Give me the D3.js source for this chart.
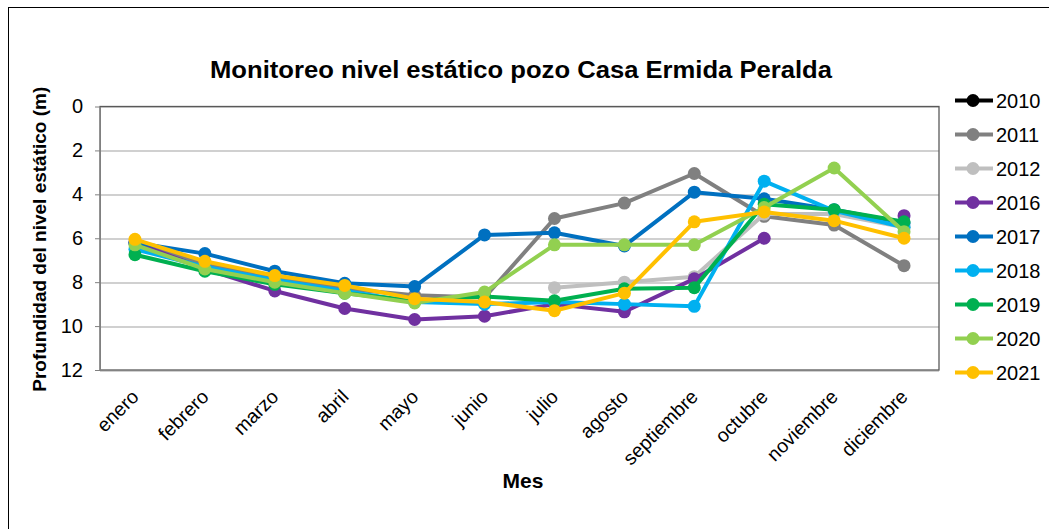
<!DOCTYPE html>
<html>
<head>
<meta charset="utf-8">
<script src="https://cdn.jsdelivr.net/npm/d3@7"></script>
<style>
  body { margin: 0; background: #fff; }
  text { font-family: "Liberation Sans", Arial, sans-serif; }
</style>
</head>
<body>
<div id="chart"></div>
<script>
// data
var months = ["enero", "febrero", "marzo", "abril", "mayo", "junio", "julio",
  "agosto", "septiembre", "octubre", "noviembre", "diciembre"];
var years = ["2010", "2011", "2012", "2016", "2017", "2018", "2019", "2020", "2021"];
var colors = ["#000000", "#808080", "#bfbfbf", "#7030a0", "#0070c0", "#00b0f0", "#00b050", "#92d050", "#ffc000"];
var yTicks = [0, 2, 4, 6, 8, 10, 12];

var v2010 = [null, null, null, null, null, null, null, null, null, null, null, null];
var v2011 = [6.2, 7.2, 7.8, 8.3, 8.6, 8.7, 5.1, 4.4, 3.05, 5.0, 5.4, 7.25];
var v2012 = [null, null, null, null, null, null, 8.25, 8.0, 7.75, 4.9, 4.9, 5.5];
var v2016 = [6.2, 7.4, 8.4, 9.2, 9.7, 9.55, 9.0, 9.35, 7.85, 6.0, null, 4.97];
var v2017 = [6.2, 6.7, 7.5, 8.05, 8.2, 5.85, 5.75, 6.35, 3.9, 4.2, 4.7, 5.3];
var v2018 = [6.5, 7.3, 7.9, 8.4, 8.9, 9.0, 8.9, 9.0, 9.1, 3.4, 4.75, 5.5];
var v2019 = [6.75, 7.5, 8.1, 8.5, 8.85, 8.65, 8.85, 8.3, 8.25, 4.45, 4.7, 5.25];
var v2020 = [6.3, 7.4, 8.0, 8.5, 8.95, 8.45, 6.3, 6.3, 6.3, 4.6, 2.8, 5.7];
var v2021 = [6.05, 7.05, 7.7, 8.15, 8.75, 8.9, 9.3, 8.5, 5.25, 4.8, 5.2, 6.0];
var values = [v2010, v2011, v2012, v2016, v2017, v2018, v2019, v2020, v2021];

var W = 1049, H = 529;
var margin = {top: 106.5, right: 110, bottom: 159, left: 100},
  width = W - margin.left - margin.right,
  height = H - margin.top - margin.bottom;

var root = d3.select("#chart").append("svg")
  .attr("width", W)
  .attr("height", H);

root.append("rect").attr("width", W).attr("height", H).attr("fill", "#fff");

// outer chart frame
root.append("rect")
  .attr("x", 8.5).attr("y", 7.5)
  .attr("width", W + 20).attr("height", H + 20)
  .attr("fill", "none").attr("stroke", "#000").attr("stroke-width", 1);

var svg = root.append("g")
  .attr("transform", "translate(" + margin.left + "," + margin.top + ")");

var x = d3.scaleBand().domain(months).range([0, width]);
var y = d3.scaleLinear().domain([0, 12]).range([0, height]);

// gridlines
svg.append("g")
  .selectAll("line")
  .data(yTicks)
  .enter()
  .append("line")
    .attr("x1", 0).attr("x2", width)
    .attr("y1", function(d) { return Math.round(y(d)) + 0.5; })
    .attr("y2", function(d) { return Math.round(y(d)) + 0.5; })
    .attr("stroke", "#c0c0c0")
    .attr("stroke-width", 1.3);

// plot frame
svg.append("rect")
  .attr("x", 0).attr("y", 0)
  .attr("width", width).attr("height", height)
  .attr("fill", "none").attr("stroke", "#595959").attr("stroke-width", 1.3);

// Y axis
var yAxis = svg.append("g")
  .call(d3.axisLeft(y).tickValues(yTicks).tickSize(5).tickSizeOuter(0).tickPadding(12));
yAxis.select(".domain").attr("stroke", "#808080");
yAxis.selectAll(".tick line").attr("stroke", "#808080");
yAxis.selectAll("text").attr("font-size", "20px").attr("fill", "#000");

// X axis (no tick marks shown)
var xAxis = svg.append("g")
  .attr("transform", "translate(0," + height + ")")
  .call(d3.axisBottom(x).tickSize(0).tickPadding(0));
xAxis.select(".domain").remove();
xAxis.selectAll("text")
  .attr("font-size", "19.5px")
  .attr("fill", "#000")
  .attr("text-anchor", "end")
  .attr("dy", "0")
  .attr("transform", "translate(5,28) rotate(-45)");

// series
var line = d3.line()
  .defined(function(d) { return d != null; })
  .x(function(d, i) { return x(months[i]) + x.bandwidth() / 2; })
  .y(function(d) { return y(d); });

values.forEach(function(vals, k) {
  var g = svg.append("g");
  g.append("path")
    .datum(vals)
    .attr("d", line)
    .attr("fill", "none")
    .attr("stroke", colors[k])
    .attr("stroke-width", 4)
    .attr("stroke-linejoin", "round");
  g.selectAll("circle")
    .data(vals.map(function(d, i) { return {v: d, m: months[i]}; }).filter(function(d) { return d.v != null; }))
    .enter()
    .append("circle")
      .attr("cx", function(d) { return x(d.m) + x.bandwidth() / 2; })
      .attr("cy", function(d) { return y(d.v); })
      .attr("r", 6.5)
      .attr("fill", colors[k]);
});

// title
root.append("text")
  .attr("x", 521).attr("y", 77.5)
  .attr("text-anchor", "middle")
  .attr("font-size", "23px")
  .attr("font-weight", "bold")
  .attr("textLength", 622)
  .attr("lengthAdjust", "spacingAndGlyphs")
  .text("Monitoreo nivel estático pozo Casa Ermida Peralda");

// axis titles
root.append("text")
  .attr("transform", "translate(46," + (margin.top + height / 2 + 1) + ") rotate(-90)")
  .attr("text-anchor", "middle")
  .attr("font-size", "19px")
  .attr("font-weight", "bold")
  .text("Profundidad del nivel estático (m)");

root.append("text")
  .attr("x", 523).attr("y", 488)
  .attr("text-anchor", "middle")
  .attr("font-size", "21px")
  .attr("font-weight", "bold")
  .text("Mes");

// legend
var legend = root.append("g").attr("transform", "translate(955,100.5)");
years.forEach(function(yr, k) {
  var item = legend.append("g").attr("transform", "translate(0," + (k * 34) + ")");
  item.append("line")
    .attr("x1", 0).attr("x2", 38)
    .attr("stroke", colors[k]).attr("stroke-width", 4);
  item.append("circle").attr("cx", 18).attr("r", 6.5).attr("fill", colors[k]);
  item.append("text")
    .attr("x", 41).attr("dy", "0.36em")
    .attr("font-size", "20px")
    .text(yr);
});
</script>
</body>
</html>
